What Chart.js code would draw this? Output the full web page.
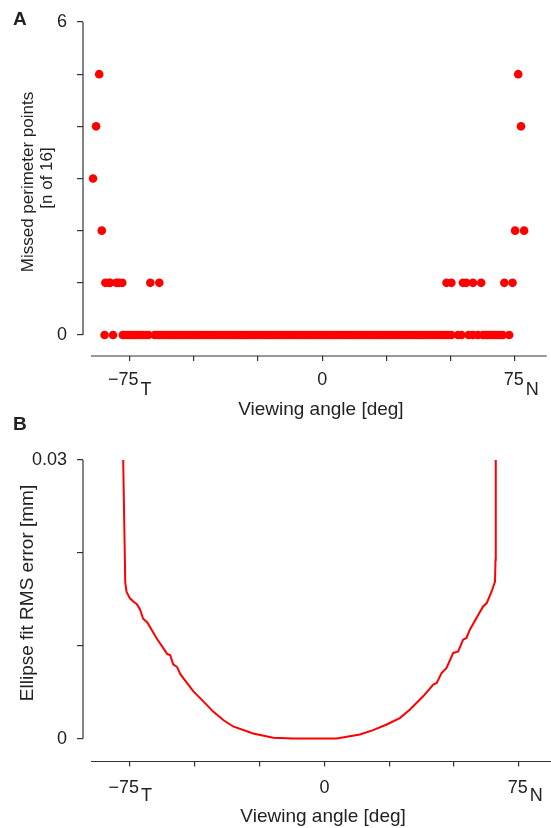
<!DOCTYPE html>
<html>
<head>
<meta charset="utf-8">
<title>Viewing angle</title>
<script src="https://cdn.jsdelivr.net/npm/chart.js@4.4.1/dist/chart.umd.min.js"></script>
<style>
  body { margin: 0; background: #fff; }
  #wrap { position: relative; width: 551px; height: 828px; }
  canvas { position: absolute; left: 0; }
  #chartA { top: 0; }
  #chartB { top: 400px; }
</style>
</head>
<body>
<div id="wrap">
  <canvas id="chartA" width="551" height="425"></canvas>
  <canvas id="chartB" width="551" height="428"></canvas>
</div>
<script>
const FONT = '"Liberation Sans", Arial, Helvetica, sans-serif';
const AXIS = '#333';
const TEXT = '#222';
const RED = '#ff0000';

// x ticks, same for both panels
const xTicks = [-75, -50, -25, 0, 25, 50, 75];
const xTickText = ['\u221275', '', '', '0', '', '', '75'];
const xTickSub = ['T', '', '', '', '', '', 'N'];

// panel A: viewing angles (deg) grouped by number of missed points
const missed0 = [-84.7, -81.4,
  -77.6, -76.6, -75.6, -74.6, -73.6, -72.6, -71.6, -70.6, -69.6, -68.6, -67.6,
  -65.2, -64.2, -63.2, -62, -61, -60, -59, -58, -57, -56, -55, -54, -53, -52,
  -51, -50, -49, -48, -47, -46, -45, -44, -43, -42, -41, -40, -39, -38, -37,
  -36, -35, -34, -33, -32, -31, -30, -29, -28, -27, -26, -25, -24, -23, -22,
  -21, -20, -19, -18, -17, -16, -15, -14, -13, -12, -11, -10, -9, -8, -7, -6,
  -5, -4, -3, -2, -1, 0, 1, 2, 3, 4, 5, 6, 7, 8, 9, 10, 11, 12, 13, 14, 15,
  16, 17, 18, 19, 20, 21, 22, 23, 24, 25, 26, 27, 28, 29, 30, 31, 32, 33, 34,
  35, 36, 37, 38, 39, 40, 41, 42, 43, 44, 45, 46, 47, 48, 49.1,
  50.3, 52.9, 54.2, 57.0, 58.7, 60.6, 62.6, 63.6, 64.5, 65.5, 66.4, 67.4,
  68.3, 69.3, 70.3, 72.8];
const missed1 = [-84.4, -83.1, -82.5, -80.1, -79.1, -77.8, -66.9, -63.4,
  48.4, 50.3, 54.8, 56.1, 58.7, 61.9, 70.9, 74.1];
const missed2 = [-85.8, 75.1, 78.6];
const missed3 = [-89.2];
const missed4 = [-88.0, 77.4];
const missed5 = [-86.8, 76.3];
const missedTicks = [0, 1, 2, 3, 4, 5, 6];
const missedTickText = ['0', '', '', '', '', '', '6'];

// panel B: ellipse fit RMS error (mm) against viewing angle (deg)
const rmsAngle = [-77.6, -76.8, -76.3, -75.0, -73.5, -72.4, -71.1, -69.9, -68.3,
  -64.7, -60.6, -59.5, -58.3, -56.8, -55.5, -50.6, -46.7, -42.9, -39.0, -35.2,
  -27.5, -19.7, -12.0, -5.6, 0, 4.7, 13.7, 18.8, 24.0, 29.1, 33.0, 38.1, 42.0,
  43.3, 45.2, 47.1, 49.7, 51.6, 53.5, 54.8, 56.1, 61.2, 62.6, 64.5, 65.8, 66.0,
  66.1];
const rmsError = [0.030, 0.0168, 0.0158, 0.0151, 0.0147, 0.0145, 0.0139, 0.0129,
  0.0125, 0.0108, 0.0091, 0.0090, 0.0080, 0.0077, 0.0069, 0.0051, 0.0040, 0.0029,
  0.0020, 0.0013, 0.00054, 0.00008, 0.00001, 0, 0, 0, 0.00043, 0.0009, 0.00151,
  0.0022, 0.00312, 0.00455, 0.00581, 0.00599, 0.00706, 0.0076, 0.00922, 0.00939,
  0.01065, 0.01083, 0.01172, 0.01423, 0.01459, 0.01584, 0.01691, 0.01925, 0.030];
const rmsTicks = [0, 0.01, 0.02, 0.03];
const rmsTickText = ['0', '', '', '0.03'];

// axis lines, tick labels with subscripts and titles
function decorations(o) {
  return {
    id: 'decor' + o.letter,
    afterDraw(chart) {
      const ctx = chart.ctx;
      const xs = chart.scales.x, ys = chart.scales.y;
      const area = chart.chartArea;
      ctx.save();
      ctx.strokeStyle = AXIS;
      ctx.lineWidth = 1.2;
      ctx.beginPath();
      ctx.moveTo(area.left, ys.getPixelForValue(o.yFrom));
      ctx.lineTo(area.left, ys.getPixelForValue(o.yTo));
      ctx.moveTo(xs.getPixelForValue(-90), area.bottom);
      ctx.lineTo(area.right, area.bottom);
      ctx.stroke();

      ctx.fillStyle = TEXT;
      ctx.textBaseline = 'alphabetic';
      ctx.font = '18px ' + FONT;
      xTicks.forEach((v, i) => {
        if (!xTickText[i]) return;
        const px = xs.getPixelForValue(v);
        const base = area.bottom + o.tickBase;
        if (xTickSub[i]) {
          ctx.textAlign = 'right';
          ctx.fillText(xTickText[i], px + 9, base);
          ctx.textAlign = 'left';
          ctx.fillText(xTickSub[i], px + 11, base + o.subDrop);
        } else {
          ctx.textAlign = 'center';
          ctx.fillText(xTickText[i], px, base);
        }
      });

      ctx.font = '19px ' + FONT;
      ctx.textAlign = 'center';
      ctx.fillText('Viewing angle [deg]', xs.getPixelForValue(-0.5), o.xTitleY);

      ctx.font = o.yTitleSize + 'px ' + FONT;
      o.yTitle.forEach((line, i) => {
        ctx.save();
        ctx.translate(o.yTitleX[i], o.yTitleMid[i]);
        ctx.rotate(-Math.PI / 2);
        ctx.fillText(line, 0, 0);
        ctx.restore();
      });

      ctx.font = 'bold 19px ' + FONT;
      ctx.textAlign = 'left';
      ctx.fillText(o.letter, 13, o.letterY);
      ctx.restore();
    }
  };
}

function xScale(height) {
  return {
    type: 'linear',
    min: -93.1,
    max: 87.4,
    afterFit: s => { s.height = height; },
    afterBuildTicks: s => { s.ticks = xTicks.map(v => ({ value: v })); },
    border: { display: false },
    grid: { drawOnChartArea: false, drawTicks: true, tickLength: 5, color: AXIS, lineWidth: 1.2 },
    ticks: { callback: () => '' }
  };
}

function yScale(min, max, ticks, text) {
  return {
    type: 'linear',
    min: min,
    max: max,
    afterFit: s => { s.width = 83; },
    afterBuildTicks: s => { s.ticks = ticks.map(v => ({ value: v })); },
    border: { display: false },
    grid: { drawOnChartArea: false, drawTicks: true, tickLength: 6, color: AXIS, lineWidth: 1.2 },
    ticks: {
      padding: 10,
      color: TEXT,
      font: { family: FONT, size: 18 },
      callback: v => text[ticks.indexOf(v)] || ''
    }
  };
}

const toPoints = (xs, n) => xs.map(x => ({ x: x, y: n }));
const missedPoints = [missed0, missed1, missed2, missed3, missed4, missed5]
  .map((xs, n) => toPoints(xs, n)).flat();

new Chart(document.getElementById('chartA'), {
  type: 'scatter',
  data: {
    datasets: [{
      data: missedPoints,
      pointRadius: 4.3,
      pointBorderWidth: 0,
      pointBackgroundColor: RED,
      pointBorderColor: RED
    }]
  },
  options: {
    responsive: false,
    animation: false,
    devicePixelRatio: 1,
    layout: { padding: { top: 22, right: 0, bottom: 0, left: 0 } },
    plugins: { legend: { display: false }, tooltip: { enabled: false } },
    scales: {
      x: xScale(69),
      y: yScale(-0.4026, 6, missedTicks, missedTickText)
    }
  },
  plugins: [decorations({
    letter: 'A', letterY: 25, yFrom: 0, yTo: 6,
    tickBase: 29, subDrop: 10, xTitleY: 415,
    yTitle: ['Missed perimeter points', '[n of 16]'],
    yTitleSize: 17, yTitleX: [33, 52], yTitleMid: [182, 178]
  })]
});

new Chart(document.getElementById('chartB'), {
  type: 'line',
  data: {
    datasets: [{
      data: rmsAngle.map((a, i) => ({ x: a, y: rmsError[i] })),
      borderColor: RED,
      borderWidth: 2,
      pointRadius: 0,
      tension: 0,
      fill: false
    }]
  },
  options: {
    responsive: false,
    animation: false,
    devicePixelRatio: 1,
    layout: { padding: { top: 60, right: 0, bottom: 0, left: 0 } },
    plugins: { legend: { display: false }, tooltip: { enabled: false } },
    scales: {
      x: xScale(66.5),
      y: yScale(-0.002473, 0.03, rmsTicks, rmsTickText)
    }
  },
  plugins: [decorations({
    letter: 'B', letterY: 29.5, yFrom: 0, yTo: 0.03,
    tickBase: 31, subDrop: 8, xTitleY: 422,
    yTitle: ['Ellipse fit RMS error [mm]'],
    yTitleSize: 19, yTitleX: [33], yTitleMid: [193]
  })]
});
</script>
</body>
</html>
